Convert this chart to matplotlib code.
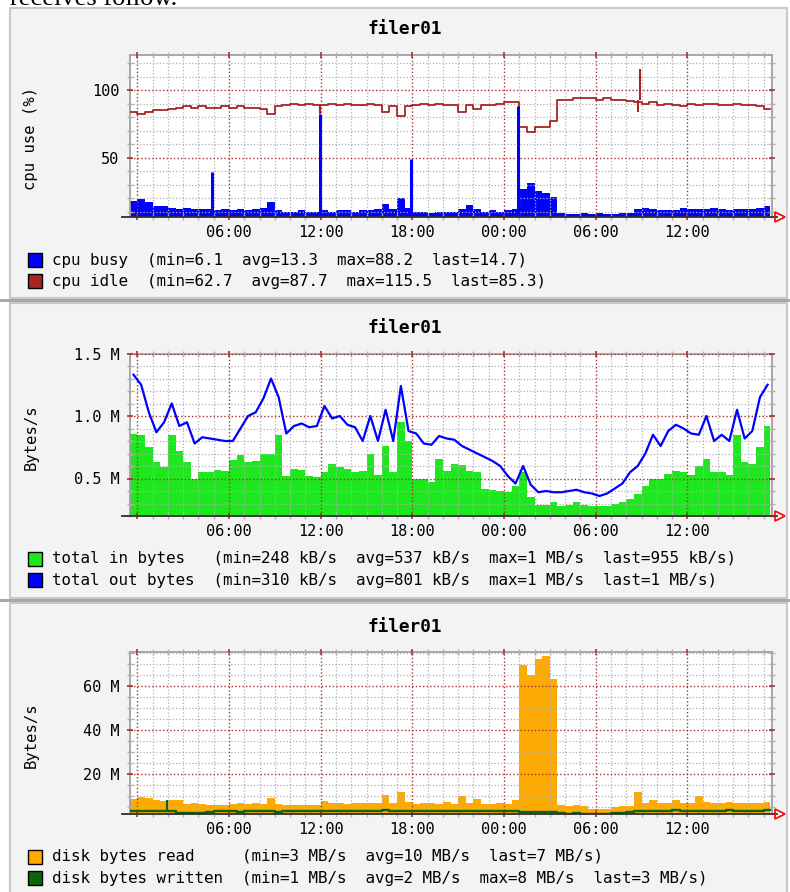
import numpy as np
import matplotlib
matplotlib.use('Agg')
import matplotlib.pyplot as plt
from matplotlib.patches import Rectangle
from matplotlib.ticker import MultipleLocator, FixedLocator

t = np.arange(84) * 0.5 - 0.5   # heures depuis le premier minuit
t_end = 41.4

hour_ticks = [0, 6, 12, 18, 24, 30, 36]
hour_labels = ['', '06:00', '12:00', '18:00', '00:00', '06:00', '12:00']

cpu_busy = [18, 19, 17, 14, 14, 13, 12, 13, 12, 12, 12, 11,
            12, 11, 12, 11, 12, 13, 17, 11, 10, 10, 11, 10,
            10, 11, 10, 11, 11, 10, 11, 11, 12, 16, 12, 20,
            13, 10, 10, 9, 10, 10, 10, 12, 15, 12, 10, 11,
            10, 11, 12, 27, 31, 25, 24, 21, 9, 8, 8, 9,
            8, 9, 8, 8, 9, 9, 12, 13, 12, 11, 11, 11,
            13, 12, 12, 12, 13, 12, 11, 12, 12, 12, 13, 14]
cpu_idle = [84, 82, 84, 85, 85, 86, 87, 88, 87, 88, 87, 87,
            88, 87, 88, 87, 87, 86, 82, 88, 89, 90, 89, 90,
            89, 89, 90, 89, 90, 89, 89, 90, 89, 84, 88, 81,
            88, 89, 90, 89, 90, 89, 89, 84, 89, 86, 89, 89,
            90, 91, 91, 73, 69, 73, 73, 77, 93, 93, 94, 94,
            94, 93, 94, 93, 93, 92, 91, 90, 91, 89, 90, 89,
            88, 90, 89, 90, 90, 89, 89, 90, 89, 89, 88, 86]
busy_spike_t = [4.9, 11.95, 17.9, 24.9]
busy_spike_v = [39, 82, 49, 88]
idle_spike_t = [11.95, 32.78, 32.9]
idle_spike_lo = [82, 84, 93]
idle_spike_hi = [89, 93, 115.5]

net_in = [0.86, 0.85, 0.75, 0.63, 0.59, 0.85, 0.72, 0.63, 0.50, 0.55, 0.55, 0.57,
          0.56, 0.65, 0.69, 0.63, 0.64, 0.70, 0.70, 0.85, 0.52, 0.58, 0.57, 0.52,
          0.51, 0.55, 0.62, 0.59, 0.58, 0.55, 0.56, 0.70, 0.53, 0.76, 0.55, 0.95,
          0.80, 0.50, 0.50, 0.47, 0.66, 0.56, 0.62, 0.61, 0.56, 0.55, 0.42, 0.41,
          0.40, 0.39, 0.44, 0.55, 0.35, 0.29, 0.29, 0.31, 0.28, 0.29, 0.31, 0.29,
          0.28, 0.28, 0.28, 0.30, 0.31, 0.34, 0.38, 0.44, 0.50, 0.50, 0.54, 0.56,
          0.55, 0.53, 0.60, 0.66, 0.55, 0.55, 0.53, 0.85, 0.63, 0.62, 0.75, 0.92]
net_out = [1.33, 1.25, 1.03, 0.87, 0.95, 1.10, 0.92, 0.95, 0.78, 0.83, 0.82, 0.81,
           0.80, 0.80, 0.90, 1.00, 1.03, 1.14, 1.30, 1.15, 0.86, 0.92, 0.94, 0.91,
           0.92, 1.08, 0.98, 1.00, 0.93, 0.91, 0.80, 1.00, 0.80, 1.05, 0.80, 1.24,
           0.88, 0.86, 0.78, 0.77, 0.84, 0.82, 0.81, 0.76, 0.73, 0.70, 0.67, 0.64,
           0.60, 0.52, 0.46, 0.60, 0.45, 0.39, 0.40, 0.39, 0.39, 0.40, 0.41, 0.39,
           0.38, 0.36, 0.38, 0.42, 0.46, 0.55, 0.60, 0.70, 0.85, 0.76, 0.88, 0.93,
           0.90, 0.86, 0.85, 1.00, 0.80, 0.85, 0.80, 1.05, 0.82, 0.88, 1.15, 1.25]

disk_read = [8.6, 9.5, 9.0, 8.0, 7.5, 8.3, 8.0, 6.3, 6.5, 6.3, 6.0, 5.9,
             5.8, 6.3, 6.5, 6.3, 6.5, 6.4, 8.9, 6.2, 6.0, 5.8, 6.0, 5.8,
             6.0, 7.8, 6.5, 6.8, 6.3, 6.5, 6.5, 6.8, 6.5, 10.4, 6.5, 11.6,
             7.0, 6.3, 6.5, 6.5, 6.2, 7.3, 6.3, 10.0, 6.5, 8.6, 6.3, 6.3,
             6.5, 6.3, 8.3, 69.4, 65.0, 72.5, 73.5, 63.0, 5.9, 5.5, 5.8, 5.5,
             4.2, 4.0, 4.0, 5.0, 5.5, 5.5, 11.6, 6.8, 8.0, 6.8, 6.5, 8.0,
             6.8, 6.8, 10.0, 7.0, 6.8, 6.5, 7.0, 6.8, 6.5, 6.8, 6.6, 7.0]
disk_written = [3.0, 3.0, 3.2, 3.0, 3.0, 3.0, 2.2, 2.1, 2.1, 2.2, 2.8, 3.0,
                2.9, 3.0, 2.8, 3.0, 3.0, 2.9, 3.0, 2.8, 3.0, 2.9, 3.0, 3.0,
                2.9, 3.2, 3.0, 3.1, 3.0, 3.2, 3.0, 3.1, 3.0, 3.3, 3.0, 3.2,
                3.0, 3.0, 3.1, 2.9, 3.0, 3.0, 3.2, 3.0, 3.1, 2.9, 3.0, 3.0,
                3.1, 3.0, 2.9, 2.5, 2.5, 2.5, 2.6, 2.5, 2.0, 1.9, 2.0, 1.8,
                1.8, 1.8, 1.9, 2.0, 2.2, 2.8, 3.0, 3.2, 3.0, 3.1, 3.0, 3.3,
                3.0, 3.2, 3.0, 3.1, 3.2, 3.0, 3.3, 3.1, 3.2, 3.0, 3.1, 3.3]
write_spike_t = [1.95]
write_spike_v = [8.0]

cpu_legend = ['cpu busy  (min=6.1  avg=13.3  max=88.2  last=14.7)',
              'cpu idle  (min=62.7  avg=87.7  max=115.5  last=85.3)']
net_legend = ['total in bytes   (min=248 kB/s  avg=537 kB/s  max=1 MB/s  last=955 kB/s)',
              'total out bytes  (min=310 kB/s  avg=801 kB/s  max=1 MB/s  last=1 MB/s)']
disk_legend = ['disk bytes read     (min=3 MB/s  avg=10 MB/s  last=7 MB/s)',
               'disk bytes written  (min=1 MB/s  avg=2 MB/s  max=8 MB/s  last=3 MB/s)']

### Couleurs

bleu = '#0000ff'
rouge = '#a82424'
vert = '#1de81d'
orange = '#ffaa00'
vertfonce = '#0c640c'
grille = '#b0b0b0'
grille_maj = '#a83030'

mono = 'DejaVu Sans Mono'
W, H = 790, 892

fig = plt.figure(figsize=(W / 100, H / 100), dpi=100)
fig.patch.set_facecolor('white')

# fonds des trois images
for top, bot in [(8, 298), (303, 598), (603, 895)]:
    fig.patches.append(Rectangle((10 / W, 1 - bot / H), 777 / W, (bot - top) / H,
                                 transform=fig.transFigure, fc='#f3f3f3',
                                 ec='#c8c8c8', lw=1.5, zorder=-2))
for yb in [299, 599]:
    fig.patches.append(Rectangle((0, 1 - (yb + 3) / H), 1, 3 / H,
                                 transform=fig.transFigure, fc='#a8a8a8',
                                 ec='none', zorder=-2))

fig.text(10 / W, 1 - 5 / H, 'receives follow.', family='Liberation Serif',
         fontsize=19, va='baseline')


def make_ax(top, bot, ylo, yhi, ymaj, ylabs, ymin, ylabel, title, legend, colors):
    ax = fig.add_axes([130 / W, 1 - bot / H, 642 / W, (bot - top) / H])
    ax.set_facecolor('white')
    ax.set_xlim(-0.48, 41.54)
    ax.set_ylim(ylo, yhi)
    ax.xaxis.set_major_locator(FixedLocator(hour_ticks))
    ax.set_xticklabels(hour_labels)
    ax.xaxis.set_minor_locator(MultipleLocator(1))
    ax.yaxis.set_major_locator(FixedLocator(ymaj))
    ax.set_yticklabels(ylabs)
    ax.yaxis.set_minor_locator(MultipleLocator(ymin))
    ax.grid(which='minor', color=grille, ls=(0, (1, 1.6)), lw=0.9)
    ax.grid(which='major', color=grille_maj, ls=(0, (1, 1.6)), lw=1.0)
    ax.set_axisbelow(False)
    ax.tick_params(which='both', direction='inout', top=True, right=True,
                   labelsize=11, labelfontfamily=mono)
    ax.tick_params(which='major', length=5, color=grille_maj, width=1.2)
    ax.tick_params(which='minor', length=4, color=grille, width=1)
    ax.tick_params(axis='x', pad=3)
    ax.tick_params(axis='y', pad=5)
    for s in ['left', 'top', 'right']:
        ax.spines[s].set_color('#a0a0a0')
        ax.spines[s].set_linewidth(1.3)
    ax.spines['bottom'].set_visible(False)
    ax.plot([-0.012, 1.008], [0, 0], transform=ax.transAxes, color='#303030',
            lw=1.3, clip_on=False, zorder=5)
    ax.plot([1.013], [0], marker='>', ms=7, mfc='none', mec='red', mew=1.2,
            transform=ax.transAxes, clip_on=False, zorder=5)

    fig.text(405 / W, 1 - (top - 25.5) / H, title, ha='center', va='center',
             family=mono, weight='bold', fontsize=12.8)
    fig.text(31 / W, 1 - ((top + bot) / 2 + 2) / H, ylabel, rotation=90,
             ha='center', va='center', family=mono, fontsize=11.2)
    for k in range(2):
        yc = bot + 43 + 21 * k
        fig.patches.append(Rectangle((28 / W, 1 - (yc + 7) / H), 14 / W, 14 / H,
                                     transform=fig.transFigure, fc=colors[k],
                                     ec='black', lw=1, zorder=3))
        fig.text(52 / W, 1 - yc / H, legend[k], va='center', family=mono,
                 fontsize=11.4)
    return ax


edges = np.append(t, t_end)


def ext(v):
    return np.append(v, v[-1])


### Graphe 1 : cpu

ax1 = make_ax(55, 217, 6, 126, [50, 100], ['50', '100'], 10, 'cpu use (%)',
              'filer01', cpu_legend, [bleu, rouge])
ax1.step(edges, ext(cpu_idle), where='post', color=rouge, lw=1.3, zorder=3)
ax1.vlines(idle_spike_t, idle_spike_lo, idle_spike_hi, color=rouge, lw=1.5, zorder=3)
ax1.fill_between(edges, 6, ext(cpu_busy), step='post', color=bleu, lw=0, zorder=1)
ax1.vlines(busy_spike_t, 6, busy_spike_v, color=bleu, lw=2.2, zorder=3)

### Graphe 2 : réseau

ax2 = make_ax(353.5, 516, 0.2, 1.5, [0.5, 1.0, 1.5], ['0.5 M', '1.0 M', '1.5 M'],
              0.1, 'Bytes/s', 'filer01', net_legend, [vert, bleu])
ax2.fill_between(edges, 0.2, ext(net_in), step='post', color=vert, lw=0, zorder=1)
ax2.plot(t + 0.25, net_out, color=bleu, lw=1.6, zorder=3)

### Graphe 3 : disques

ax3 = make_ax(652, 814, 1.7, 75.5, [20, 40, 60], ['20 M', '40 M', '60 M'],
              5, 'Bytes/s', 'filer01', disk_legend, [orange, vertfonce])
ax3.fill_between(edges, 1.7, ext(disk_read), step='post', color=orange, lw=0, zorder=1)
ax3.step(edges, ext(disk_written), where='post', color=vertfonce, lw=1.7, zorder=3)
ax3.vlines(write_spike_t, 3.0, write_spike_v, color=vertfonce, lw=1.5, zorder=3)

fig.savefig('out.png', dpi=100)
